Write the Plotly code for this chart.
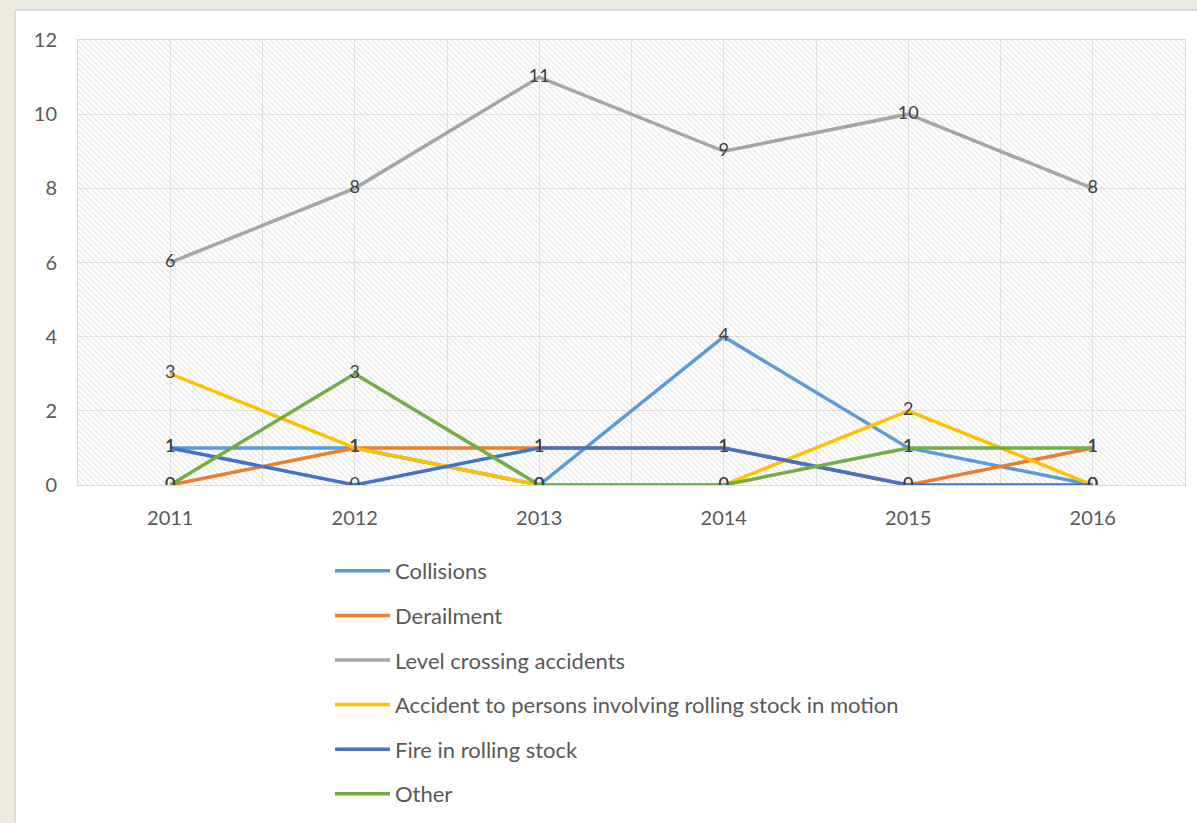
import plotly.graph_objects as go

years = [2011, 2012, 2013, 2014, 2015, 2016]
series_names = [
    "Collisions",
    "Derailment",
    "Level crossing accidents",
    "Accident to persons involving rolling stock in motion",
    "Fire in rolling stock",
    "Other",
]
collisions = [1, 1, 0, 4, 1, 0]
derailment = [0, 1, 1, 1, 0, 1]
level_crossing = [6, 8, 11, 9, 10, 8]
accident_persons = [3, 1, 0, 0, 2, 0]
fire = [1, 0, 1, 1, 0, 0]
other = [0, 3, 0, 0, 1, 1]
y_ticks = [0, 2, 4, 6, 8, 10, 12]

series_values = [collisions, derailment, level_crossing, accident_persons, fire, other]
colors = ["#5B9BD5", "#ED7D31", "#A5A5A5", "#FFC000", "#4472C4", "#70AD47"]

W, H = 1197, 823
ML, MR, MT, MB = 78, 12, 40, 338
pw, ph = W - ML - MR, H - MT - MB

x_range = [years[0] - 0.5, years[-1] + 0.5]
y_range = [y_ticks[0], y_ticks[-1]]

FONT = "Lato"
BEIGE = "#EDEAE0"

fig = go.Figure()

# hatched plot-area background
fig.add_trace(go.Bar(
    x=[(x_range[0] + x_range[1]) / 2], y=[y_range[1]], width=[x_range[1] - x_range[0]],
    marker=dict(color="rgba(0,0,0,0)", line=dict(width=0),
                pattern=dict(shape="\\", fgcolor="#cdcdcd", bgcolor="rgba(0,0,0,0)",
                             size=4, solidity=0.3)),
    showlegend=False, hoverinfo="skip",
))

for i, (name, vals, col) in enumerate(zip(series_names, series_values, colors)):
    fig.add_trace(go.Scatter(
        x=years, y=vals, name=name, mode="lines",
        line=dict(color=col, width=3.5),
        legendgroup=f"g{i}",
    ))

for vals in series_values:
    fig.add_trace(go.Scatter(
        x=years, y=vals, mode="text", text=[str(v) for v in vals],
        textposition="middle center",
        textfont=dict(family=FONT, size=18, color="#404040"),
        showlegend=False, hoverinfo="skip",
    ))

def px_x(p):
    return (p - ML) / pw

def px_y(p):
    return 1 - (p - MT) / ph

# beige page frame (left and top strips) with a soft panel edge
fig.add_shape(type="rect", xref="paper", yref="paper",
              x0=px_x(0), x1=px_x(14), y0=px_y(H), y1=px_y(0),
              fillcolor=BEIGE, line=dict(width=0), layer="below")
fig.add_shape(type="rect", xref="paper", yref="paper",
              x0=px_x(0), x1=px_x(W), y0=px_y(9), y1=px_y(0),
              fillcolor=BEIGE, line=dict(width=0), layer="below")
fig.add_shape(type="line", xref="paper", yref="paper",
              x0=px_x(15), x1=px_x(15), y0=px_y(10), y1=px_y(H),
              line=dict(color="#dcdcdc", width=2), layer="below")
fig.add_shape(type="line", xref="paper", yref="paper",
              x0=px_x(15), x1=px_x(W), y0=px_y(10), y1=px_y(10),
              line=dict(color="#dcdcdc", width=2), layer="below")

fig.update_layout(
    width=W, height=H,
    margin=dict(l=ML, r=MR, t=MT, b=MB, autoexpand=False),
    paper_bgcolor="white",
    plot_bgcolor="rgba(0,0,0,0)",
    font=dict(family=FONT, size=20, color="#595959"),
    showlegend=True,
    legend=dict(
        x=px_x(330), y=px_y(550), xanchor="left", yanchor="top",
        orientation="v", traceorder="grouped", tracegroupgap=13,
        itemwidth=55,
        font=dict(family=FONT, size=22, color="#595959"),
        bgcolor="rgba(0,0,0,0)",
    ),
    xaxis=dict(
        range=x_range, tickvals=years, ticktext=[str(y) for y in years],
        showgrid=True, gridcolor="#e2e2e2", gridwidth=1,
        minor=dict(dtick=0.5, tick0=x_range[0], showgrid=True, gridcolor="#e2e2e2"),
        zeroline=False, showline=True, linecolor="#d9d9d9", mirror=True,
        ticks="", ticklabelstandoff=15,
        tickfont=dict(family=FONT, size=20, color="#595959"),
        fixedrange=True,
    ),
    yaxis=dict(
        range=y_range, tickvals=y_ticks,
        showgrid=True, gridcolor="#e2e2e2", gridwidth=1,
        zeroline=False, showline=True, linecolor="#d9d9d9", mirror=True,
        ticks="", ticklabelstandoff=16,
        tickfont=dict(family=FONT, size=20, color="#595959"),
        fixedrange=True,
    ),
    bargap=0,
)

fig.write_html(
    "out.html", config={"displayModeBar": False},
    post_script=("document.body.style.margin='0';"
                 "var d=document.querySelector('.plotly-graph-div');"
                 "d.style.position='fixed';d.style.top='0';d.style.left='0';"))
